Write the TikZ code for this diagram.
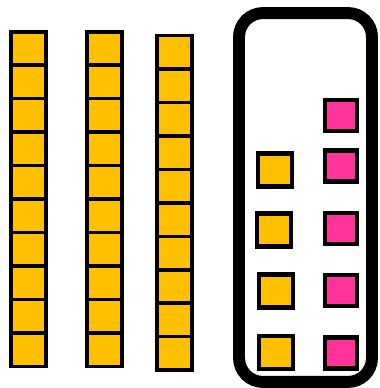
\documentclass[tikz,border=0pt]{standalone}
\usepackage{tikz}
\usetikzlibrary{positioning}
\definecolor{blockyellow}{HTML}{FFC000}
\definecolor{blockpink}{HTML}{FF3399}

\begin{document}
\begin{tikzpicture}[
    x=0.02cm, y=-0.02cm,
    tencell/.style={draw, line width=2pt, fill=blockyellow, inner sep=0pt,
      minimum width=0.71cm, minimum height=0.67cm},
    yellowone/.style={draw, line width=2.3pt, fill=blockyellow, inner sep=0pt,
      minimum width=0.68cm, minimum height=0.66cm},
    pinkone/.style={draw, line width=2.3pt, fill=blockpink, inner sep=0pt,
      minimum width=0.64cm, minimum height=0.62cm},
    groupbox/.style={draw, line width=6.8pt, rounded corners=0.48cm,
      minimum width=2.66cm, minimum height=7.38cm}
  ]
    \useasboundingbox (0,0) rectangle (379,388);

    \foreach \c/\x/\y in {1/28.5/48.5, 2/104.5/48.5, 3/174.5/52.4}
      \foreach \i in {0,...,9}
        \node[tencell] (ten\c-\i) at (\x,{\y+33.45*\i}) {};

    \node[groupbox] (group) at (305.5,197.5) {};

    \node[yellowone] (y1) at (275,170)   {};
    \node[yellowone] (y2) at (274,230)   {};
    \node[yellowone] (y3) at (276,291)   {};
    \node[yellowone] (y4) at (276,352.5) {};

    \node[pinkone] (p1) at (341,115.5) {};
    \node[pinkone] (p2) at (341,166)   {};
    \node[pinkone] (p3) at (341,228.5) {};
    \node[pinkone] (p4) at (341,290.5) {};
    \node[pinkone] (p5) at (341,353)   {};
  \end{tikzpicture}
\end{document}
